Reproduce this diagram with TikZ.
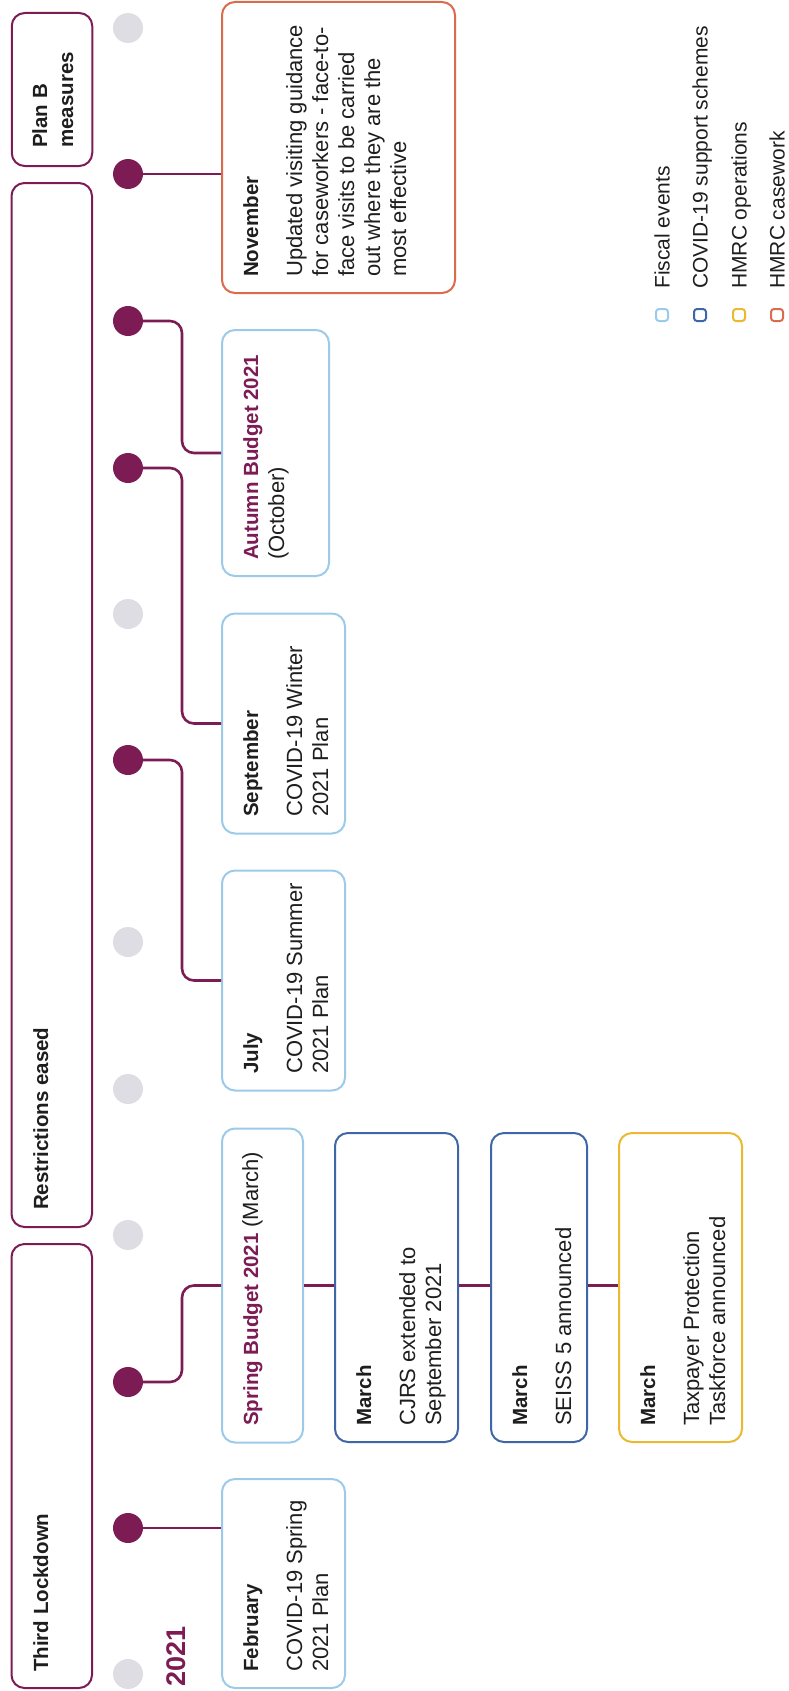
\documentclass[tikz,border=0pt]{standalone}
\usepackage{fontspec}
\setmainfont{Liberation Sans}
\definecolor{plum}{HTML}{7D1B55}
\definecolor{dotgrey}{HTML}{DEDDE4}
\definecolor{fiscal}{HTML}{9CCBEA}
\definecolor{covid}{HTML}{3F67A8}
\definecolor{ops}{HTML}{EAB92F}
\definecolor{casework}{HTML}{DA6B4C}
\definecolor{ink}{HTML}{1E1E1E}
\begin{document}
\begin{tikzpicture}[x=1pt,y=-1pt,
  card/.style={draw=#1, line width=2pt, rounded corners=13pt, fill=white, inner sep=0pt},
  bar/.style={card=plum, minimum width=80.5pt},
  pdot/.style={circle, fill=plum, minimum size=30pt, inner sep=0pt},
  gdot/.style={circle, fill=dotgrey, minimum size=30pt, inner sep=0pt},
  conn/.style={draw=plum, line width=2.6pt, rounded corners=12pt},
  head/.style={rotate=90, anchor=base west, inner sep=0pt, font=\fontsize{20.5}{24}\selectfont\bfseries, text=ink},
  body/.style={rotate=90, anchor=base west, inner sep=0pt, font=\fontsize{22}{26}\selectfont, text=ink},
  legtext/.style={body, font=\fontsize{21}{25}\selectfont, text depth=0pt},
  key/.style={draw=#1, line width=2pt, rounded corners=3pt, minimum size=12pt, inner sep=0pt},
]
\useasboundingbox (0,0) rectangle (789,1691);

% left period bars
\node[bar, minimum height=153pt] (planb) at (52,89.5) {};
\node[bar, minimum height=1044pt] (restr) at (51.75,705) {};
\node[bar, minimum height=444pt] (third) at (51.75,1466) {};
\node[head] (tplanb1) at (47,148) {Plan B};
\node[head] (tplanb2) at (73,148) {measures};
\node[head] (trestr) at (48,1210) {Restrictions eased};
\node[head] (tthird) at (48,1672) {Third Lockdown};

% year
\node[head, font=\fontsize{27}{30}\selectfont\bfseries, text=plum] (year) at (185,1687) {2021};

% event boxes
\node[card=casework, minimum width=233pt, minimum height=291pt] (nov) at (338.5,147.5) {};
\node[card=fiscal, minimum width=107pt, minimum height=246pt] (autumn) at (275.5,453) {};
\node[card=fiscal, minimum width=123pt, minimum height=220pt] (sept) at (283.5,723.5) {};
\node[card=fiscal, minimum width=123pt, minimum height=220pt] (july) at (283.5,980.5) {};
\node[card=fiscal, minimum width=81pt, minimum height=314pt] (spring) at (262.5,1285.5) {};
\node[card=covid, minimum width=123pt, minimum height=309pt] (cjrs) at (396.5,1287.5) {};
\node[card=covid, minimum width=96pt, minimum height=309pt] (seiss) at (539,1287.5) {};
\node[card=ops, minimum width=123pt, minimum height=309pt] (taxp) at (680.5,1287.5) {};
\node[card=fiscal, minimum width=123pt, minimum height=209pt] (feb) at (283.5,1583.5) {};

% timeline dots
\node[gdot] (d1) at (128,28) {};
\node[pdot] (d2) at (128,174) {};
\node[pdot] (d3) at (128,321) {};
\node[pdot] (d4) at (128,468) {};
\node[gdot] (d5) at (128,614) {};
\node[pdot] (d6) at (128,760) {};
\node[gdot] (d7) at (128,942) {};
\node[gdot] (d8) at (128,1089) {};
\node[gdot] (d9) at (128,1235) {};
\node[pdot] (d10) at (128,1382) {};
\node[pdot] (d11) at (128,1528) {};
\node[gdot] (d12) at (128,1674) {};

% connectors
\coordinate (elbow) at (182,0);
\draw[conn] (d2.east) -- (d2 -| nov.west);
\draw[conn] (d3.east) -- (d3 -| elbow) |- (autumn.west);
\draw[conn] (d4.east) -- (d4 -| elbow) |- (sept.west);
\draw[conn] (d6.east) -- (d6 -| elbow) |- (july.west);
\draw[conn] (d10.east) -- (d10 -| elbow) |- (spring.west);
\draw[conn] (d11.east) -- (d11 -| feb.west);
\draw[conn] (spring.east) -- (spring.east -| cjrs.west);
\draw[conn] (cjrs.east |- spring.east) -- (spring.east -| seiss.west);
\draw[conn] (seiss.east |- spring.east) -- (spring.east -| taxp.west);

% box texts
\node[head] (tnov0) at (258,277) {November};
\node[body] (tnov1) at (302,277) {Updated visiting guidance};
\node[body] (tnov2) at (328,277) {for caseworkers - face-to-};
\node[body] (tnov3) at (354,277) {face visits to be carried};
\node[body] (tnov4) at (380,277) {out where they are the};
\node[body] (tnov5) at (406,277) {most effective};

\node[head, text=plum] (taut0) at (258,560) {Autumn Budget 2021};
\node[body] (taut1) at (284,560) {(October)};

\node[head] (tsep0) at (258,817) {September};
\node[body] (tsep1) at (302,817) {COVID-19 Winter};
\node[body] (tsep2) at (328,817) {2021 Plan};

\node[head] (tjul0) at (258,1074) {July};
\node[body] (tjul1) at (302,1074) {COVID-19 Summer};
\node[body] (tjul2) at (328,1074) {2021 Plan};

\node[head] (tspr0) at (258,1426) {\textcolor{plum}{Spring Budget 2021} {\fontsize{22}{26}\selectfont\mdseries (March)}};

\node[head] (tcj0) at (371,1426) {March};
\node[body] (tcj1) at (415,1426) {CJRS extended to};
\node[body] (tcj2) at (441,1426) {September 2021};

\node[head] (tse0) at (527,1426) {March};
\node[body] (tse1) at (571,1426) {SEISS 5 announced};

\node[head] (ttp0) at (655,1426) {March};
\node[body] (ttp1) at (699,1426) {Taxpayer Protection};
\node[body] (ttp2) at (725,1426) {Taskforce announced};

\node[head] (tfeb0) at (258,1672) {February};
\node[body] (tfeb1) at (302,1672) {COVID-19 Spring};
\node[body] (tfeb2) at (328,1672) {2021 Plan};

% legend
\node[key=fiscal] (k1) at (662,315) {};
\node[key=covid] (k2) at (700,315) {};
\node[key=ops] (k3) at (739,315) {};
\node[key=casework] (k4) at (777,315) {};
\node[legtext] (l1) at (669.5,289) {Fiscal events};
\node[legtext] (l2) at (707.5,289) {COVID-19 support schemes};
\node[legtext] (l3) at (746.5,289) {HMRC operations};
\node[legtext] (l4) at (784.5,289) {HMRC casework};
\end{tikzpicture}
\end{document}
